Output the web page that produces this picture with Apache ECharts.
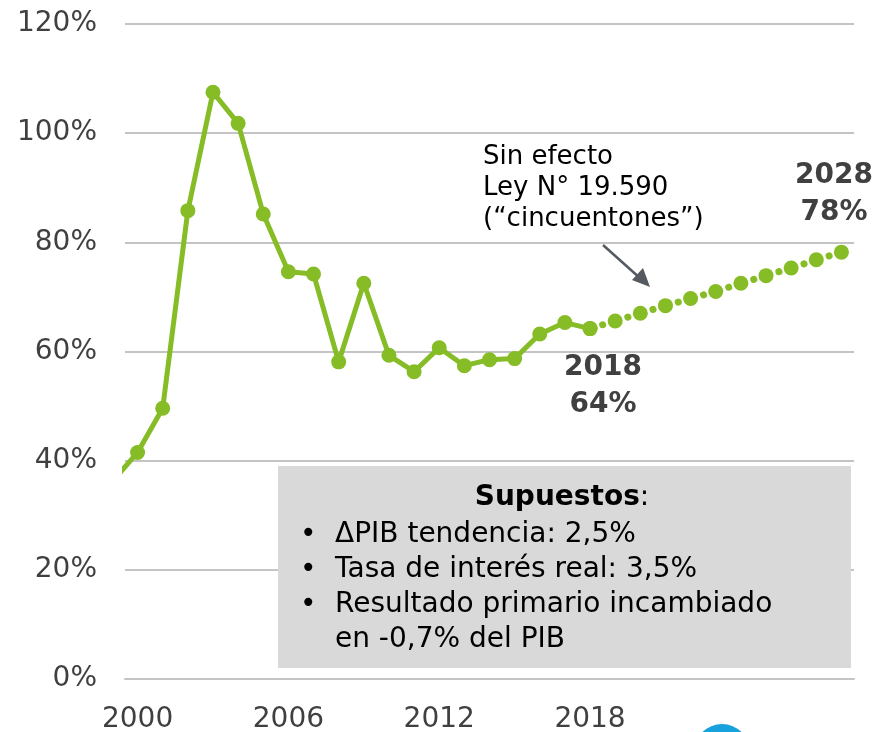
<!DOCTYPE html>
<html>
<head>
<meta charset="utf-8">
<script src="https://cdn.jsdelivr.net/npm/echarts@6/dist/echarts.min.js"></script>
<style>
  html, body { margin: 0; padding: 0; background: #fff; }
  #chart { width: 880px; height: 732px; }
</style>
</head>
<body>
<div id="chart"></div>
<script>
// deuda / PIB, serie observada 1999-2018 y proyección 2018-2028
const actualYears = [1999, 2000, 2001, 2002, 2003, 2004, 2005, 2006, 2007, 2008, 2009,
                     2010, 2011, 2012, 2013, 2014, 2015, 2016, 2017, 2018]
const actualValues = [36.2, 41.5, 49.6, 85.8, 107.5, 101.8, 85.2, 74.6, 74.2, 58.1, 72.5,
                      59.3, 56.3, 60.7, 57.4, 58.5, 58.7, 63.2, 65.3, 64.2]

const projYears = [2018, 2019, 2020, 2021, 2022, 2023, 2024, 2025, 2026, 2027, 2028]
const projValues = [64.2, 65.6, 67.0, 68.4, 69.7, 71.0, 72.5, 73.9, 75.3, 76.8, 78.2]

const yearLabels = [2000, 2006, 2012, 2018]
const yTicks = [0, 20, 40, 60, 80, 100, 120]

const bulletLines = ['ΔPIB tendencia: 2,5%', 'Tasa de interés real: 3,5%',
                     'Resultado primario incambiado', 'en -0,7% del PIB']

const GREEN = '#86bc25'
const FONT = 'DejaVu Sans'

const chart = echarts.init(document.getElementById('chart'), null, { renderer: 'canvas' })

chart.setOption({
  animation: false,
  textStyle: { fontFamily: FONT },
  grid: { left: 125, right: 26, top: 24, bottom: 53, outerBoundsMode: 'none', containLabel: false },
  xAxis: {
    type: 'value',
    min: 1999.5,
    max: 2028.5,
    axisLine: { show: true, lineStyle: { color: '#c4c4c4', width: 2 } },
    axisTick: { show: false },
    splitLine: { show: false },
    axisLabel: {
      customValues: yearLabels,
      formatter: v => String(v),
      color: '#404040',
      fontSize: 28,
      fontFamily: FONT,
      margin: 27
    }
  },
  yAxis: {
    type: 'value',
    min: yTicks[0],
    max: yTicks[yTicks.length - 1],
    interval: 20,
    axisLine: { show: false },
    axisTick: { show: false },
    splitLine: { lineStyle: { color: '#c4c4c4', width: 2 } },
    axisLabel: {
      formatter: '{value}%',
      color: '#404040',
      fontSize: 28,
      fontFamily: FONT,
      margin: 28
    }
  },
  series: [
    {
      name: 'Observado',
      type: 'line',
      clip: true,
      data: actualYears.map((y, i) => [y, actualValues[i]]),
      symbol: 'circle',
      symbolSize: 15,
      itemStyle: { color: GREEN },
      lineStyle: { color: GREEN, width: 5 },
      z: 5
    },
    {
      name: 'Proyección',
      type: 'line',
      clip: true,
      data: projYears.map((y, i) => [y, projValues[i]]),
      symbol: 'circle',
      symbolSize: 15,
      itemStyle: { color: GREEN },
      lineStyle: { color: GREEN, width: 7, type: [0.1, 13.05], cap: 'round' },
      z: 5
    }
  ],
  graphic: [
    // recuadro de supuestos
    {
      type: 'rect', z: 50,
      shape: { x: 278, y: 466, width: 573, height: 202 },
      style: { fill: '#d9d9d9' }
    },
    {
      type: 'text', z: 51, x: 562, y: 498,
      style: {
        text: '{b|Supuestos}:',
        fontFamily: FONT, fontSize: 28, fill: '#000',
        align: 'center', verticalAlign: 'middle',
        rich: { b: { fontWeight: 'bold', fontFamily: FONT, fontSize: 28, fill: '#000' } }
      }
    },
    {
      type: 'text', z: 51, x: 300, y: 517,
      style: {
        text: '•\n•\n•',
        fontFamily: FONT, fontSize: 28, lineHeight: 35, fill: '#000',
        align: 'left', verticalAlign: 'top'
      }
    },
    {
      type: 'text', z: 51, x: 335, y: 517,
      style: {
        text: bulletLines.join('\n'),
        fontFamily: FONT, fontSize: 28, lineHeight: 35, fill: '#000',
        align: 'left', verticalAlign: 'top'
      }
    },
    // nota de la ley
    {
      type: 'text', z: 20, x: 483, y: 142,
      style: {
        text: 'Sin efecto\nLey N° 19.590\n(“cincuentones”)',
        fontFamily: FONT, fontSize: 26, lineHeight: 31, fill: '#000',
        align: 'left', verticalAlign: 'top'
      }
    },
    {
      type: 'line', z: 20,
      shape: { x1: 603, y1: 245, x2: 641, y2: 279 },
      style: { stroke: '#555a60', lineWidth: 2.5 }
    },
    {
      type: 'polygon', z: 20,
      shape: { points: [[650, 287], [632, 280], [643, 268]] },
      style: { fill: '#555a60' }
    },
    // etiquetas de extremos
    {
      type: 'text', z: 20, x: 603, y: 349,
      style: {
        text: '2018\n64%',
        fontFamily: FONT, fontSize: 28, fontWeight: 'bold', lineHeight: 37, fill: '#404040',
        align: 'center', verticalAlign: 'top'
      }
    },
    {
      type: 'text', z: 20, x: 834, y: 157,
      style: {
        text: '2028\n78%',
        fontFamily: FONT, fontSize: 28, fontWeight: 'bold', lineHeight: 37, fill: '#404040',
        align: 'center', verticalAlign: 'top'
      }
    },
    // logo recortado al pie
    {
      type: 'circle', z: 1,
      shape: { cx: 722, cy: 752, r: 28 },
      style: { fill: '#17a2dd' }
    }
  ]
})

window.addEventListener('resize', () => chart.resize())
</script>
</body>
</html>
